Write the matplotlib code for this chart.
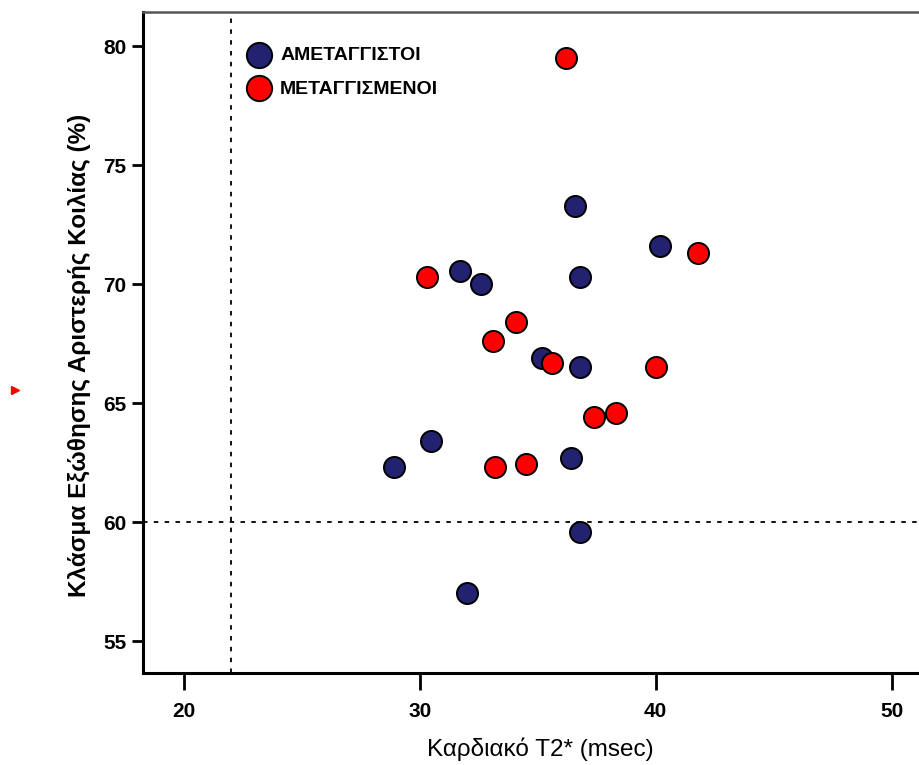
import matplotlib
matplotlib.use("Agg")
import matplotlib.pyplot as plt
from matplotlib.lines import Line2D

plt.rcParams['font.family'] = ['Liberation Sans Narrow', 'Liberation Sans', 'DejaVu Sans']

blue_x = [36.6, 40.2, 31.7, 32.6, 36.8, 35.2, 36.8, 30.5, 28.9, 36.4, 36.8, 32.0]
blue_y = [73.3, 71.6, 70.55, 70.0, 70.3, 66.9, 66.5, 63.4, 62.3, 62.7, 59.6, 57.0]
red_x = [36.2, 41.8, 30.3, 34.1, 33.1, 35.6, 40.0, 38.3, 37.4, 34.5, 33.2]
red_y = [79.5, 71.3, 70.3, 68.4, 67.6, 66.7, 66.5, 64.6, 64.4, 62.45, 62.3]
labels = ["ΑΜΕΤΑΓΓΙΣΤΟΙ", "ΜΕΤΑΓΓΙΣΜΕΝΟΙ"]
x_ticks = [20, 30, 40, 50]
y_ticks = [55, 60, 65, 70, 75, 80]
x_ref = 22
y_ref = 60

fig = plt.figure(figsize=(9.2, 7.65), dpi=100)
ax = fig.add_axes([143/920, 92/765, (939-143)/920, (673-12)/765])
ax.set_xlim(18.28, 52.0)
ax.set_ylim(53.66, 81.43)

ax.axvline(x_ref, color='black', linestyle=(0, (2.5, 3.5)), linewidth=1.3, zorder=1)
ax.axhline(y_ref, color='black', linestyle=(0, (2.5, 3.5)), linewidth=1.3, zorder=1)

ax.scatter(blue_x, blue_y, s=230, c='#222270', edgecolors='black', linewidths=1.4, zorder=3, label=labels[0])
ax.scatter(red_x, red_y, s=230, c='#ff0000', edgecolors='black', linewidths=1.4, zorder=3, label=labels[1])

ax.set_xticks(x_ticks)
ax.set_yticks(y_ticks)
ax.tick_params(axis='both', direction='out', width=2, colors='black', labelsize=15)
ax.tick_params(axis='y', length=8, pad=4)
ax.tick_params(axis='x', length=12, pad=9)
for lab in ax.get_xticklabels() + ax.get_yticklabels():
    lab.set_fontweight('bold')

ax.spines['left'].set_linewidth(2.2)
ax.spines['bottom'].set_linewidth(2.2)
ax.spines['top'].set_linewidth(1.8)
ax.spines['top'].set_color('#555555')
ax.spines['right'].set_visible(False)

ax.set_xlabel("Καρδιακό T2* (msec)", fontsize=17.5, fontweight='medium')
ax.xaxis.label.set_va('center')
ax.xaxis.set_label_coords((540-143)/(939-143), -(749-673)/(673-12))
ax.set_ylabel("Κλάσμα Εξώθησης Αριστερής Κοιλίας (%)", fontsize=17.5, fontweight='bold')
ax.yaxis.label.set_va('center')
ax.yaxis.set_label_coords(-(143-80)/(939-143), (673-355)/(673-12))

leg = ax.legend(loc='upper left', bbox_to_anchor=(0.104, 0.968), frameon=False,
                prop={'weight': 'bold', 'size': 14}, handletextpad=0.1,
                labelspacing=0.8, scatterpoints=1, borderaxespad=0.3, markerscale=1.2)

fig.add_artist(Line2D([15/920], [1 - 390/765], marker='>', color='#ff0000',
                      markersize=6, linestyle='none', transform=fig.transFigure))

fig.savefig("out.png", dpi=100)
